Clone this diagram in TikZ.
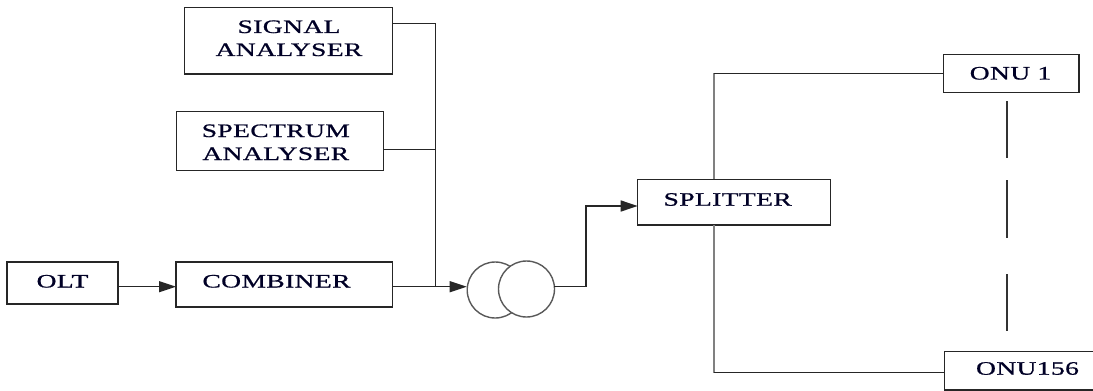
\documentclass[tikz,border=0pt]{standalone}
\usepackage{fontspec}
\setmainfont{Liberation Serif}
\newfontfamily\labfont[FakeStretch=1.45,LetterSpace=2,FakeBold=0.8]{Liberation Serif}
\usetikzlibrary{arrows.meta}
\begin{document}
\begin{tikzpicture}[x=1pt,y=-1pt,
  box/.style={draw=black!85,line width=1.4pt,inner sep=0pt,fill=white},
  lbl/.style={inner sep=0pt,font=\labfont\fontsize{19}{23}\selectfont,align=center,text=black!85!blue},
  wire/.style={draw=black!85,line width=1.4pt},
  graywire/.style={draw=black!50,line width=2.2pt},
  arr/.style={wire,-{Triangle[length=17pt,width=11pt]}},
  ring/.style={draw=black!65,line width=1.4pt,circle,inner sep=0pt,minimum size=56pt}]
\useasboundingbox (0,0) rectangle (1093,391);
\clip (0,0) rectangle (1093,391);
% boxes
\node[box,minimum width=111pt,minimum height=42pt] (olt) at (62.5,283) {};
\node[box,minimum width=216.7pt,minimum height=45pt] (comb) at (284.35,284.5) {};
\node[box,minimum width=208pt,minimum height=66.7pt] (sig) at (288.3,40.65) {};
\node[box,minimum width=207.4pt,minimum height=58.6pt] (spec) at (280,141) {};
\node[box,minimum width=193pt,minimum height=45.7pt] (split) at (734.2,202.15) {};
\node[box,minimum width=135.3pt,minimum height=37.6pt] (onu1) at (1011.35,73.5) {};
\node[box,minimum width=166.7pt,minimum height=38.3pt] (onu156) at (1027.65,370.85) {};
% labels
\node[lbl] (oltT) at (62.5,281.3) {OLT};
\node[lbl] (combT) at (276.5,281.3) {COMBINER};
\node[lbl] (sigT) at (289,38.3) {SIGNAL\\ANALYSER};
\node[lbl] (specT) at (275.8,142.3) {SPECTRUM\\ANALYSER};
\node[lbl] (splitT) at (727.7,199.5) {SPLITTER};
\node[lbl] (onu1T) at (1010.5,73.3) {ONU 1};
\node[lbl] (onu156T) at (1027.5,368.5) {ONU156};
% coupler rings
\node[ring] (ringL) at (495.2,290) {};
\node[ring,fill=white] (ringR) at (526.5,289) {};
% coordinates
\coordinate (sigout) at (392.3,23.3);
\coordinate (bustop) at (435.3,23.3);
\coordinate (specout) at (383.7,149.7);
\coordinate (busmid) at (435.3,149.7);
\coordinate (combout) at (392.7,286.7);
\coordinate (busbot) at (435.3,286.7);
\coordinate (ringin) at (466.7,286.7);
\coordinate (ringout) at (554.3,286.7);
\coordinate (bend1) at (586,286.7);
\coordinate (bend2) at (586,206);
\coordinate (splitin) at (637.7,206);
\coordinate (splittop) at (714,179.3);
\coordinate (upcorner) at (714,73.3);
\coordinate (onu1in) at (943.7,73.3);
\coordinate (splitbot) at (714,225);
\coordinate (downcorner) at (714,372.7);
\coordinate (onu156in) at (944.3,372.7);
\coordinate (dashtop) at (1007,101);
\coordinate (dashbot) at (1007,331);
\coordinate (oltout) at (118,286.7);
\coordinate (combin) at (176,286.7);
% connectors
\draw[arr] (oltout) -- (combin);
\draw[wire] (sigout) -- (bustop) -- (busbot);
\draw[wire] (specout) -- (busmid);
\draw[arr] (combout) -- (ringin);
\draw[arr] (ringout) -- (bend1) -- (bend2) -- (splitin);
\draw[graywire] (splittop) -- (upcorner);
\draw[wire] (upcorner) -- (onu1in);
\draw[graywire] (splitbot) -- (downcorner);
\draw[wire] (downcorner) -- (onu156in);
\draw[draw=black!80,line width=1.6pt,dash pattern=on 57.3pt off 21.7pt on 57.7pt off 36.6pt] (dashtop) -- (dashbot);
\end{tikzpicture}
\end{document}
